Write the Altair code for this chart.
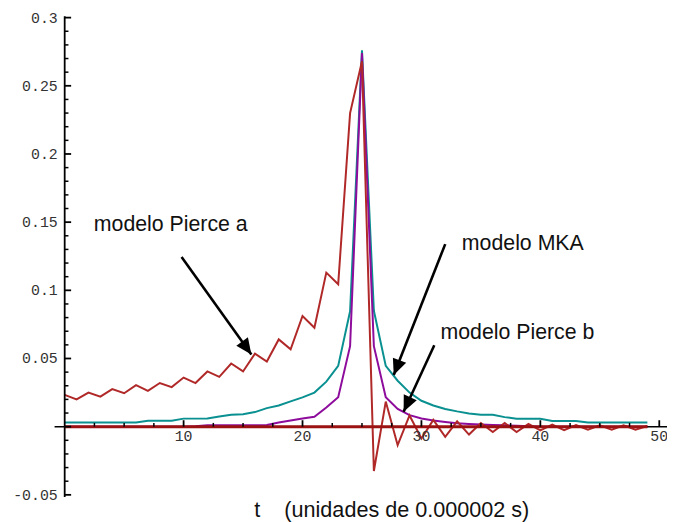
import altair as alt
import pandas as pd

# ---------------- data ----------------
t = list(range(50))

pierce_a = [0.0233, 0.0200, 0.0250, 0.0220, 0.0275, 0.0245, 0.0305, 0.0262, 0.0320, 0.0290,
            0.0360, 0.0320, 0.0405, 0.0365, 0.0463, 0.0405, 0.0536, 0.0478, 0.0640, 0.0567,
            0.0812, 0.0725, 0.1130, 0.1045, 0.2300, 0.2680, -0.0325, 0.0184, -0.0136, 0.0082,
            -0.0087, 0.0050, -0.0075, 0.0039, -0.0058, 0.0027, -0.0039, 0.0027, -0.0039, 0.0020,
            -0.0027, 0.0015, -0.0025, 0.0012, -0.0022, 0.0010, -0.0022, 0.0010, -0.0022, 0.0005]

mka = [0.0030, 0.0030, 0.0030, 0.0030, 0.0030, 0.0030, 0.0030, 0.0043, 0.0043, 0.0043,
       0.0059, 0.0059, 0.0060, 0.0075, 0.0088, 0.0091, 0.0107, 0.0136, 0.0155, 0.0186,
       0.0215, 0.0250, 0.0330, 0.0446, 0.0846, 0.2760, 0.0850, 0.0446, 0.0337, 0.0250,
       0.0190, 0.0155, 0.0130, 0.0112, 0.0097, 0.0087, 0.0087, 0.0070, 0.0058, 0.0058,
       0.0058, 0.0042, 0.0042, 0.0042, 0.0030, 0.0030, 0.0030, 0.0030, 0.0030, 0.0030]

pierce_b = [0.0, 0.0, 0.0, 0.0, 0.0, 0.0, 0.0, 0.0, 0.0, 0.0,
            0.0, 0.0003, 0.0010, 0.0011, 0.0011, 0.0011, 0.0011, 0.0012, 0.0030, 0.0045,
            0.0060, 0.0072, 0.0140, 0.0216, 0.0590, 0.2740, 0.0590, 0.0216, 0.0130, 0.0085,
            0.0060, 0.0045, 0.0035, 0.0025, 0.0020, 0.0016, 0.0013, 0.0010, 0.0007, 0.0004,
            0.0, 0.0, 0.0, 0.0, 0.0, 0.0, 0.0, 0.0, 0.0, 0.0]

zero_ref = [0.0, 0.0, 0.0, 0.0, 0.0, 0.0, 0.0, 0.0, 0.0, 0.0,
            0.0, 0.0, 0.0, 0.0, 0.0, 0.0, 0.0, 0.0, 0.0, 0.0,
            0.0, 0.0, 0.0, 0.0, 0.0, 0.0, 0.0, 0.0, 0.0, 0.0,
            0.0, 0.0, 0.0, 0.0, 0.0, 0.0, 0.0, 0.0, 0.0, 0.0,
            0.0, 0.0, 0.0, 0.0, 0.0, 0.0, 0.0, 0.0, 0.0, 0.0]

y_major = [-0.05, 0.0, 0.05, 0.1, 0.15, 0.2, 0.25, 0.3]
y_major_labels = ["-0.05", "", "0.05", "0.1", "0.15", "0.2", "0.25", "0.3"]
x_major = [10, 20, 30, 40, 50]
x_major_labels = ["10", "20", "30", "40", "50"]

# annotations (data coordinates)
ann_text = ["modelo Pierce a", "modelo MKA", "modelo Pierce b"]
ann_x = [2.45, 33.4, 31.6]
ann_y = [0.1435, 0.1295, 0.0645]
arrow_x = [9.83, 32.0, 31.08]
arrow_y = [0.1244, 0.1339, 0.0597]
arrow_tip_x = [15.7, 27.67, 28.5]
arrow_tip_y = [0.0530, 0.0379, 0.0110]
arrow_angle = [144.3, 201.5, 204.8]

x_title = "t\u00a0\u00a0\u00a0\u00a0(unidades de 0.000002 s)"

# ---------------- scales ----------------
WIDTH, HEIGHT = 618, 485
X_DOMAIN = [-0.85, 50.65]
Y_DOMAIN = [-0.0515, 0.301]
PX_X = WIDTH / (X_DOMAIN[1] - X_DOMAIN[0])    # pixels per x unit
PX_Y = HEIGHT / (Y_DOMAIN[1] - Y_DOMAIN[0])   # pixels per y unit
xs = alt.Scale(domain=X_DOMAIN, nice=False, zero=False)
ys = alt.Scale(domain=Y_DOMAIN, nice=False, zero=False)


def X(f):
    return alt.X(f, type="quantitative", scale=xs, axis=None)


def Y(f):
    return alt.Y(f, type="quantitative", scale=ys, axis=None)


def series_layer(vals, color, width):
    df = pd.DataFrame({"t": t, "v": vals})
    return alt.Chart(df).mark_line(color=color, strokeWidth=width, strokeJoin="miter").encode(
        x=X("t"), y=Y("v"))


teal = series_layer(mka, "#0A9090", 2)
purple = series_layer(pierce_b, "#8E0C9C", 2)
red = series_layer(pierce_a, "#B02828", 2)
zero_line = series_layer(zero_ref, "#9B1212", 3)

# ---------------- manual axes ----------------
axis_df = pd.DataFrame({"x0": [X_DOMAIN[0]], "x1": [X_DOMAIN[1]], "y0": [Y_DOMAIN[0]],
                        "y1": [Y_DOMAIN[1]], "z": [0.0]})
x_axis_line = alt.Chart(axis_df).mark_rule(color="black", strokeWidth=1.6).encode(
    x=X("x0"), x2="x1", y=Y("z"))
y_axis_line = alt.Chart(axis_df).mark_rule(color="black", strokeWidth=1.8).encode(
    x=X("z"), y=Y("y0"), y2="y1")

y_minor = [round(-0.05 + 0.01 * i, 4) for i in range(36)]
y_minor = [v for v in y_minor if all(abs(v - m) > 1e-6 for m in y_major)]
x_minor = [2.5 * i for i in range(1, 20) if (2.5 * i) % 10 != 0]

ymaj_df = pd.DataFrame({"v": y_major, "lab": y_major_labels, "z": 0.0, "e": 6.5 / PX_X})
ymin_df = pd.DataFrame({"v": y_minor, "z": 0.0, "e": 3.8 / PX_X})
xmaj_df = pd.DataFrame({"v": x_major, "lab": x_major_labels, "z": 0.0, "e": 6.5 / PX_Y})
xmin_df = pd.DataFrame({"v": x_minor, "z": 0.0, "e": 3.8 / PX_Y})

ymaj_ticks = alt.Chart(ymaj_df).mark_rule(color="black", strokeWidth=1.8).encode(
    x=X("z"), x2="e", y=Y("v"))
ymin_ticks = alt.Chart(ymin_df).mark_rule(color="black", strokeWidth=1.5).encode(
    x=X("z"), x2="e", y=Y("v"))
xmaj_ticks = alt.Chart(xmaj_df).mark_rule(color="black", strokeWidth=1.8).encode(
    x=X("v"), y=Y("z"), y2="e")
xmin_ticks = alt.Chart(xmin_df).mark_rule(color="black", strokeWidth=1.5).encode(
    x=X("v"), y=Y("z"), y2="e")

ylabels = alt.Chart(ymaj_df).mark_text(
    align="right", baseline="middle", dx=-7, font="Liberation Mono", fontSize=15, color="#333333"
).encode(x=X("z"), y=Y("v"), text="lab:N")
xlabels = alt.Chart(xmaj_df).mark_text(
    align="center", baseline="top", dy=2, font="Liberation Mono", fontSize=15, color="#333333"
).encode(x=X("v"), y=Y("z"), text="lab:N")

title_df = pd.DataFrame({"x": [15.95], "y": [Y_DOMAIN[0]], "lab": [x_title]})
x_title_mark = alt.Chart(title_df).mark_text(
    align="left", baseline="alphabetic", dy=20, font="Liberation Sans", fontSize=21.8, color="#111111"
).encode(x=X("x"), y=Y("y"), text="lab:N")

# ---------------- annotations ----------------
ann_df = pd.DataFrame({"x": ann_x, "y": ann_y, "lab": ann_text})
ann_marks = alt.Chart(ann_df).mark_text(
    align="left", baseline="alphabetic", font="Liberation Sans", fontSize=21.5, color="#111111"
).encode(x=X("x"), y=Y("y"), text="lab:N")

arr_df = pd.DataFrame({"x": arrow_x, "y": arrow_y, "tx": arrow_tip_x, "ty": arrow_tip_y,
                       "a": arrow_angle})
shafts = alt.Chart(arr_df).mark_rule(color="black", strokeWidth=2.6).encode(
    x=X("x"), y=Y("y"), x2="tx", y2="ty")
heads = alt.Chart(arr_df).mark_point(
    shape="M0,0L0.9,2L-0.9,2Z", filled=True, size=256, color="black", opacity=1, strokeWidth=0
).encode(x=X("tx"), y=Y("ty"), angle=alt.Angle("a:Q", scale=None))

chart = alt.layer(
    teal, purple, red, x_axis_line, zero_line, y_axis_line,
    ymaj_ticks, ymin_ticks, xmaj_ticks, xmin_ticks, ylabels, xlabels, x_title_mark,
    shafts, heads, ann_marks
).properties(
    width=WIDTH, height=HEIGHT,
    autosize=alt.AutoSizeParams(type="none"),
    padding={"left": 47, "top": 6, "right": 0, "bottom": 23},
    background="white",
).configure_view(stroke=None)

chart.save("out.html", embed_options={"renderer": "svg", "actions": False})
